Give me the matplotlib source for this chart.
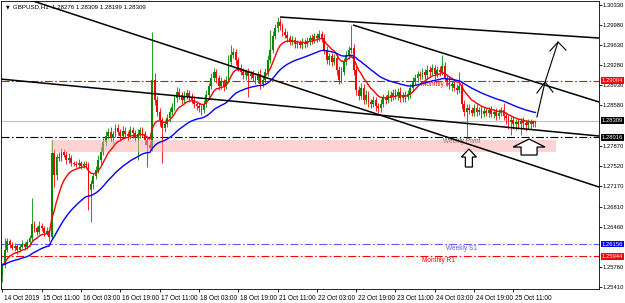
import numpy as np
import pandas as pd
import matplotlib
matplotlib.use("Agg")
import matplotlib.pyplot as plt
import matplotlib.transforms as mtransforms
from matplotlib.patches import Rectangle, Polygon

plt.rcParams['font.family'] = ['Liberation Sans', 'DejaVu Sans']

symbol = "GBPUSD,H1"

# H1 closes, 14 Oct 19:00 .. 25 Oct 20:00
first_open = 1.2562
closes = [
    1.2579, 1.2605, 1.2621, 1.2614, 1.2609, 1.2612, 1.2605, 1.2611, 1.2616, 1.2611,
    1.2619, 1.2626, 1.2651, 1.2644, 1.2637, 1.2647, 1.2644, 1.2635, 1.2639, 1.2628,
    1.2774, 1.2736, 1.2767, 1.2766, 1.2776, 1.2771, 1.2762, 1.2766, 1.2757, 1.2755,
    1.2754, 1.2757, 1.2752, 1.2755, 1.2754, 1.2710, 1.2720, 1.2734, 1.2745, 1.2762,
    1.2776, 1.2794, 1.2804, 1.2811, 1.2801, 1.2808, 1.2818, 1.2811, 1.2804, 1.2813,
    1.2808, 1.2804, 1.2814, 1.2809, 1.2801, 1.2808, 1.2814, 1.2808, 1.2797, 1.2788,
    1.2783, 1.2902, 1.2867, 1.2846, 1.2832, 1.2818, 1.2825, 1.2835, 1.2846, 1.2855,
    1.2870, 1.2881, 1.2876, 1.2867, 1.2874, 1.2879, 1.2872, 1.2867, 1.2860, 1.2856,
    1.2853, 1.2849, 1.2860, 1.2876, 1.2891, 1.2905, 1.2916, 1.2905, 1.2891, 1.2898,
    1.2891, 1.2902, 1.2933, 1.2945, 1.2950, 1.2936, 1.2922, 1.2916, 1.2910, 1.2916,
    1.2909, 1.2912, 1.2905, 1.2902, 1.2912, 1.2895, 1.2902, 1.2916, 1.2937, 1.2954,
    1.2978, 1.2992, 1.3003, 1.2996, 1.2985, 1.2980, 1.2975, 1.2968, 1.2971, 1.2964,
    1.2966, 1.2963, 1.2968, 1.2964, 1.2970, 1.2975, 1.2971, 1.2978, 1.2975, 1.2982,
    1.2975, 1.2954, 1.2936, 1.2943, 1.2933, 1.2940, 1.2919, 1.2902, 1.2916, 1.2933,
    1.2945, 1.2954, 1.2957, 1.2919, 1.2884, 1.2874, 1.2888, 1.2867, 1.2876, 1.2863,
    1.2860, 1.2867, 1.2856, 1.2853, 1.2860, 1.2870, 1.2867, 1.2876, 1.2872, 1.2879,
    1.2874, 1.2881, 1.2870, 1.2876, 1.2872, 1.2877, 1.2888, 1.2898, 1.2905, 1.2912,
    1.2909, 1.2916, 1.2910, 1.2919, 1.2916, 1.2923, 1.2912, 1.2919, 1.2916, 1.2926,
    1.2905, 1.2898, 1.2891, 1.2895, 1.2888, 1.2884, 1.2891, 1.2860, 1.2846, 1.2853,
    1.2849, 1.2844, 1.2853, 1.2846, 1.2849, 1.2842, 1.2848, 1.2844, 1.2849, 1.2842,
    1.2846, 1.2839, 1.2844, 1.2849, 1.2839, 1.2835, 1.2828, 1.2832, 1.2825, 1.2828,
    1.2825, 1.2830, 1.2826, 1.2823, 1.2828, 1.2825, 1.28276, 1.28309,
]
# wick lengths beyond the body, in pips
wick_up = [
    3, 22, 6, 4, 5, 6, 4, 5, 7, 3,
    6, 5, 45, 5, 4, 8, 5, 4, 6, 3,
    23, 8, 6, 9, 7, 5, 6, 8, 5, 4,
    5, 6, 4, 5, 6, 4, 7, 5, 6, 8,
    8, 7, 9, 6, 8, 5, 7, 6, 5, 8,
    6, 5, 7, 6, 5, 8, 6, 5, 4, 6,
    8, 83, 12, 7, 6, 5, 6, 8, 7, 6,
    7, 9, 6, 5, 8, 6, 5, 7, 6, 5,
    6, 5, 7, 8, 6, 9, 7, 5, 6, 8,
    6, 7, 12, 18, 8, 6, 5, 7, 6, 5,
    6, 5, 7, 6, 5, 8, 6, 7, 8, 35,
    9, 7, 8, 6, 5, 7, 6, 5, 7, 6,
    5, 6, 7, 5, 6, 5, 7, 6, 5, 6,
    5, 6, 7, 5, 6, 7, 5, 6, 8, 7,
    7, 6, 41, 8, 6, 7, 9, 6, 8, 7,
    6, 7, 5, 6, 8, 7, 6, 8, 7, 6,
    7, 6, 8, 5, 6, 7, 6, 8, 7, 6,
    6, 7, 5, 8, 6, 7, 5, 6, 7, 19,
    7, 6, 8, 5, 7, 6, 25, 8, 6, 7,
    6, 5, 7, 6, 5, 7, 6, 5, 6, 7,
    5, 6, 7, 5, 13, 6, 5, 7, 6, 5,
    6, 5, 7, 5, 6, 5, 4, 0,
]
wick_dn = [
    12, 5, 4, 6, 3, 5, 6, 4, 3, 5,
    4, 6, 5, 8, 5, 4, 6, 5, 4, 7,
    3, 21, 8, 5, 6, 4, 7, 5, 6, 4,
    4, 5, 6, 4, 5, 35, 56, 8, 5, 6,
    6, 5, 8, 6, 7, 9, 5, 6, 8, 5,
    7, 8, 5, 9, 6, 39, 7, 6, 8, 38,
    6, 5, 9, 8, 10, 61, 7, 5, 6, 5,
    5, 6, 8, 7, 5, 6, 8, 5, 7, 6,
    7, 9, 5, 6, 7, 5, 6, 8, 7, 5,
    8, 6, 5, 7, 6, 8, 5, 6, 7, 8,
    37, 6, 5, 7, 6, 9, 5, 6, 7, 6,
    6, 5, 7, 8, 6, 5, 7, 6, 5, 7,
    6, 5, 7, 6, 5, 7, 6, 5, 7, 6,
    7, 8, 6, 9, 7, 6, 8, 7, 6, 5,
    6, 7, 5, 9, 8, 7, 6, 8, 7, 9,
    8, 6, 9, 9, 7, 6, 8, 5, 7, 6,
    6, 8, 7, 6, 8, 5, 7, 6, 5, 7,
    7, 5, 8, 6, 7, 6, 8, 5, 7, 6,
    6, 7, 5, 8, 6, 7, 5, 9, 8, 46,
    7, 6, 5, 8, 6, 7, 5, 6, 7, 5,
    6, 7, 5, 6, 8, 10, 12, 22, 9, 11,
    9, 19, 8, 10, 7, 9, 6, 7.7,
]

time_labels = ["14 Oct 2019", "15 Oct 11:00", "16 Oct 03:00", "16 Oct 19:00",
               "17 Oct 11:00", "18 Oct 03:00", "18 Oct 19:00", "21 Oct 11:00",
               "22 Oct 03:00", "22 Oct 19:00", "23 Oct 11:00", "24 Oct 03:00",
               "24 Oct 19:00", "25 Oct 11:00"]
bars_per_label = 16

price_ticks = [1.30330, 1.29980, 1.29630, 1.29280, 1.28930, 1.28580, 1.27870,
               1.27520, 1.27170, 1.26810, 1.26460, 1.25760, 1.25410]

# pivot levels
level_names = ["Monthly R2", "Weekly Pivot", "Weekly S1", "Monthly R1"]
level_values = [1.29004, 1.28016, 1.26156, 1.25944]
level_colors = ["#ff0000", "#000000", "#5a5aff", "#ff0000"]
level_box_colors = ["#ff0000", "#000000", "#0000ff", "#ff0000"]
level_text_bar = [183.8, 194.4, 193.2, 184.2]

# drawn objects (bar index, price)
zone_bars = (19.75, 225.4)
zone_prices = (1.27760, 1.27969)
trend_lines = [
    ((11.2, 1.30408), (242.9, 1.27150)),
    ((-1.0, 1.29032), (242.9, 1.28039)),
    ((113.0, 1.30112), (242.9, 1.29746)),
    ((142.7, 1.29973), (242.9, 1.28631)),
]
path_x = [217.6, 220.9, 226.2]
path_y = [1.28370, 1.28980, 1.29676]
heads = [((217.6, 1.28788), (220.9, 1.28980), (224.1, 1.28805)),
         ((222.9, 1.29520), (226.2, 1.29676), (229.4, 1.29537))]

# ---------------------------------------------------------------
c = np.array(closes)
n = len(c)
idx = np.arange(n)
o = np.r_[first_open, c[:-1]]
top = np.maximum(o, c)
bot = np.minimum(o, c)
hi = top + np.array(wick_up) / 1e4
lo = bot - np.array(wick_dn) / 1e4
col = np.where(c >= o, "#008c00", "#ff0000")

ema_fast = pd.Series(c).ewm(span=10, adjust=False).mean()
ema_slow = pd.Series(c).ewm(span=34, adjust=False).mean()

fig = plt.figure(figsize=(6.25, 3.03), dpi=100)
ax = fig.add_axes([1 / 625, 14 / 303, 598 / 625, 288 / 303])
ax.set_xlim(-0.61, 242.87)
ax.set_ylim(1.25374, 1.30391)

# bid line
ax.axhline(c[-1], color="#c0c0c0", lw=0.8, zorder=1)

# pivot levels
for name, v, lc, tb in zip(level_names, level_values, level_colors, level_text_bar):
    ax.axhline(v, color=lc, lw=0.8, ls=(0, (7.2, 2.2, 1.4, 2.2)), zorder=2)
    tc = "#444444" if lc == "#000000" else lc
    ax.text(tb, v - 0.00012, name, color=tc, fontsize=4.7, ha="right", va="top", zorder=2)

# candles
ax.vlines(idx, lo, hi, colors=col, lw=0.6, zorder=3)
ax.bar(idx, np.maximum(top - bot, 0.00003), bottom=bot, width=0.75, color=col, lw=0, zorder=3)

# zone
ax.add_patch(Rectangle((zone_bars[0], zone_prices[0]), zone_bars[1] - zone_bars[0],
                       zone_prices[1] - zone_prices[0], fc="#ffa8a8", ec="none",
                       alpha=0.5, zorder=4))

ax.plot(idx, ema_fast, color="#ff0000", lw=1.0, zorder=5)
ax.plot(idx, ema_slow, color="#0000ff", lw=1.0, zorder=5)

for (x0, y0), (x1, y1) in trend_lines:
    ax.plot([x0, x1], [y0, y1], color="black", lw=1.1, zorder=6, solid_capstyle="butt")

ax.plot(path_x, path_y, color="black", lw=0.8, zorder=6)
for a, b, d in heads:
    ax.plot([a[0], b[0], d[0]], [a[1], b[1], d[1]], color="black", lw=0.8, zorder=6)


def hollow_arrow(xc, tip, base, bottom, head_w, shaft_w):
    pts = [(xc, tip), (xc + head_w, base), (xc + shaft_w, base), (xc + shaft_w, bottom),
           (xc - shaft_w, bottom), (xc - shaft_w, base), (xc - head_w, base)]
    ax.add_patch(Polygon(pts, closed=True, fc="white", ec="black", lw=0.9, zorder=7))


hollow_arrow(189.9, 1.27812, 1.27673, 1.27499, 3.05, 1.43)
hollow_arrow(214.4, 1.27987, 1.27847, 1.27708, 6.5, 3.26)

# axes styling
for s in ax.spines.values():
    s.set_linewidth(0.6)
    s.set_color("black")
ax.yaxis.tick_right()
ax.set_yticks(price_ticks)
ax.set_yticklabels([f"{p:.5f}" for p in price_ticks])
ax.tick_params(axis="y", direction="out", length=2.0, width=0.6, pad=0.8, labelsize=4.2)
ax.set_xticks(np.arange(len(time_labels)) * bars_per_label)
ax.set_xticklabels(time_labels)
ax.tick_params(axis="x", direction="out", length=2.5, width=0.6, pad=1.5, labelsize=4.7)
off = mtransforms.ScaledTranslation(1.5 / 100, 0, fig.dpi_scale_trans)
for lab in ax.get_xticklabels():
    lab.set_ha("left")
    lab.set_transform(lab.get_transform() + off)

# price boxes on the right
tr = mtransforms.blended_transform_factory(ax.transAxes, ax.transData)
box_x = 1.0 + 2.5 / 598
for v, bc in zip(level_values, level_box_colors):
    ax.text(box_x, v, f"{v:.5f}", transform=tr, color="white", fontsize=4.2,
            ha="left", va="center", clip_on=False, zorder=10,
            bbox=dict(boxstyle="square,pad=0.15", fc=bc, ec="none"))
ax.text(box_x, c[-1], f"{c[-1]:.5f}", transform=tr, color="white", fontsize=4.2,
        ha="left", va="center", clip_on=False, zorder=10,
        bbox=dict(boxstyle="square,pad=0.15", fc="black", ec="none"))

# header
ax.text(5 / 598, 1 - 5.5 / 288, "\u25bc", transform=ax.transAxes, fontsize=3.5,
        ha="left", va="center", family=["DejaVu Sans"], zorder=10)
ax.text(12 / 598, 1 - 5.5 / 288,
        f"{symbol}  {o[-1]:.5f} {hi[-1]:.5f} {lo[-1]:.5f} {c[-1]:.5f}",
        transform=ax.transAxes, fontsize=4.4, ha="left", va="center", zorder=10)

fig.savefig("out.png", dpi=100)
